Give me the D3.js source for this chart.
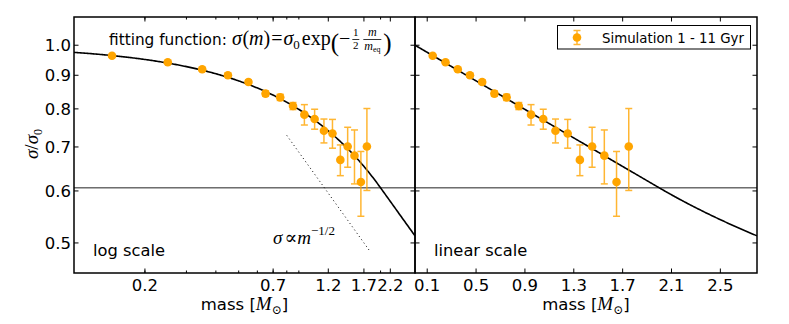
<!DOCTYPE html>
<html>
<head>
<meta charset="utf-8">
<script src="https://cdn.jsdelivr.net/npm/d3@7"></script>
<style>
  body { margin: 0; background: #fff; }
  svg { display: block; }
  text { font-family: 'DejaVu Sans', sans-serif; fill: #000; }
  .math { font-family: 'Liberation Serif', 'DejaVu Serif', serif; }
</style>
</head>
<body>
<svg id="chart" width="789" height="324"></svg>
<script>
// data
const masses = [0.145, 0.25, 0.35, 0.45, 0.55, 0.65, 0.75, 0.85, 0.95, 1.05, 1.15, 1.25, 1.35, 1.45, 1.55, 1.65, 1.75]
const sigmaRatio = [0.964, 0.942, 0.919, 0.900, 0.879, 0.844, 0.833, 0.808, 0.784, 0.772, 0.741, 0.734, 0.669, 0.701, 0.679, 0.619, 0.701]
const sigmaErr = [0.004, 0.004, 0.005, 0.006, 0.007, 0.008, 0.009, 0.010, 0.028, 0.027, 0.031, 0.037, 0.036, 0.049, 0.064, 0.070, 0.100]

// fit parameters
const mEq = 2.0
const sigma0 = 1.0

// reference power law  sigma ~ m^-1/2
const powerLawRange = [0.8, 1.8]
const powerLawAmp = 0.652

const logTicks = [0.2, 0.7, 1.2, 1.7, 2.2]
const logMinorTicks = [0.2, 0.3, 0.4, 0.5, 0.6, 0.7, 0.8, 0.9, 2.0]
const linTicks = [0.1, 0.5, 0.9, 1.3, 1.7, 2.1, 2.5]
const yTicks = [0.5, 0.6, 0.7, 0.8, 0.9, 1.0]

const fit = m => m <= mEq
  ? sigma0 * Math.exp(-0.5 * m / mEq)
  : sigma0 * Math.exp(-0.5) * Math.sqrt(mEq / m)

const svg = d3.select('#chart')
const yTop = 17, yBottom = 273

const y = d3.scaleLog().domain([0.45, 1.104]).range([yBottom, yTop])

const panels = [
  { id: 'log', x: d3.scaleLog().domain([0.1, 2.8]).range([74, 415]), ticks: logTicks, minor: logMinorTicks, label: 'log scale', yLabels: true },
  { id: 'lin', x: d3.scaleLinear().domain([0, 2.8]).range([415, 757]), ticks: linTicks, minor: [], label: 'linear scale', yLabels: false }
]

const defs = svg.append('defs')

panels.forEach(p => {
  const [x0, x1] = p.x.range()
  defs.append('clipPath').attr('id', 'clip-' + p.id)
    .append('rect').attr('x', x0).attr('y', yTop).attr('width', x1 - x0).attr('height', yBottom - yTop)

  const g = svg.append('g')
  const plot = g.append('g').attr('clip-path', `url(#clip-${p.id})`)

  // sigma_eq line
  plot.append('line')
    .attr('x1', x0).attr('x2', x1)
    .attr('y1', y(Math.exp(-0.5))).attr('y2', y(Math.exp(-0.5)))
    .style('stroke', '#222').style('stroke-width', 1)

  // fitting curve
  const [d0, d1] = p.x.domain()
  const curvePts = d3.range(0, 301).map(i => {
    const m = p.id === 'log' ? d0 * Math.pow(d1 / d0, i / 300) : d0 + (d1 - d0) * i / 300
    return [p.x(m), y(fit(m))]
  })
  plot.append('path')
    .attr('d', d3.line()(curvePts))
    .style('fill', 'none').style('stroke', '#000').style('stroke-width', 1.6)

  if (p.id === 'log') {
    plot.append('line')
      .attr('x1', p.x(powerLawRange[0])).attr('y1', y(powerLawAmp / Math.sqrt(powerLawRange[0])))
      .attr('x2', p.x(powerLawRange[1])).attr('y2', y(powerLawAmp / Math.sqrt(powerLawRange[1])))
      .style('stroke', '#000').style('stroke-width', 1)
      .style('stroke-dasharray', '1,3')
  }

  // error bars
  const pts = masses.map((m, i) => ({ m, s: sigmaRatio[i], e: sigmaErr[i] }))
  const eb = plot.append('g').style('stroke', '#ffa500').style('stroke-width', 1.5).style('opacity', 0.8)
  eb.selectAll('.bar').data(pts).enter().append('line')
    .attr('x1', d => p.x(d.m)).attr('x2', d => p.x(d.m))
    .attr('y1', d => y(d.s - d.e)).attr('y2', d => y(d.s + d.e))
  eb.selectAll('.capt').data(pts).enter().append('line')
    .attr('x1', d => p.x(d.m) - 3.5).attr('x2', d => p.x(d.m) + 3.5)
    .attr('y1', d => y(d.s + d.e)).attr('y2', d => y(d.s + d.e))
  eb.selectAll('.capb').data(pts).enter().append('line')
    .attr('x1', d => p.x(d.m) - 3.5).attr('x2', d => p.x(d.m) + 3.5)
    .attr('y1', d => y(d.s - d.e)).attr('y2', d => y(d.s - d.e))

  plot.selectAll('.dot').data(pts).enter().append('circle')
    .attr('cx', d => p.x(d.m)).attr('cy', d => y(d.s)).attr('r', 4.3)
    .style('fill', '#ffa500')

  // ticks (inward, all four sides)
  const tk = g.append('g').style('stroke', '#000').style('stroke-width', 1)
  const xt = (vals, len) => {
    vals.forEach(v => {
      const xx = p.x(v)
      tk.append('line').attr('x1', xx).attr('x2', xx).attr('y1', yBottom).attr('y2', yBottom - len)
      tk.append('line').attr('x1', xx).attr('x2', xx).attr('y1', yTop).attr('y2', yTop + len)
    })
  }
  xt(p.minor, 2.5)
  xt(p.ticks, 4.5)
  yTicks.forEach(v => {
    tk.append('line').attr('x1', x0).attr('x2', x0 + 4.5).attr('y1', y(v)).attr('y2', y(v))
    tk.append('line').attr('x1', x1).attr('x2', x1 - 4.5).attr('y1', y(v)).attr('y2', y(v))
  })

  // frame
  g.append('rect').attr('x', x0).attr('y', yTop).attr('width', x1 - x0).attr('height', yBottom - yTop)
    .style('fill', 'none').style('stroke', '#000').style('stroke-width', 1.5)

  // tick labels
  g.selectAll('.xl').data(p.ticks).enter().append('text')
    .attr('x', d => p.x(d)).attr('y', 291)
    .attr('text-anchor', 'middle').style('font-size', '16.5px')
    .text(d => d3.format('.1f')(d))

  if (p.yLabels) {
    g.selectAll('.yl').data(yTicks).enter().append('text')
      .attr('x', x0 - 3).attr('y', d => y(d) + 6)
      .attr('text-anchor', 'end').style('font-size', '16.5px')
      .text(d => d3.format('.1f')(d))
  }

  // x axis label
  const xl = g.append('text').attr('x', (x0 + x1) / 2).attr('y', 310)
    .attr('text-anchor', 'middle').style('font-size', '16.5px')
  xl.append('tspan').text('mass [')
  xl.append('tspan').attr('class', 'math').style('font-style', 'italic').style('font-size', '19px').text('M')
  xl.append('tspan').attr('class', 'math').style('font-size', '12px').attr('dy', 4).text('⊙')
  xl.append('tspan').attr('dy', -4).text(']')

  g.append('text').attr('x', x0 + 19).attr('y', 256).style('font-size', '16.3px').text(p.label)
})

// y axis label
const yl = svg.append('text').attr('class', 'math')
  .attr('transform', 'translate(38,144) rotate(-90)')
  .attr('text-anchor', 'middle').style('font-size', '19px')
yl.append('tspan').style('font-style', 'italic').text('σ')
yl.append('tspan').text('/')
yl.append('tspan').style('font-style', 'italic').text('σ')
yl.append('tspan').style('font-size', '12px').attr('dy', 4).text('0')

// annotation: fitting function
const ann = svg.append('g')
let cx = 109
const put = (txt, opt = {}) => {
  const t = ann.append('text').attr('x', cx).attr('y', opt.y || 45)
    .attr('class', opt.math ? 'math' : null)
    .style('font-size', (opt.size || 16) + 'px')
    .style('font-style', opt.italic ? 'italic' : 'normal')
    .text(txt)
  const w = t.node().getComputedTextLength()
  cx += w + (opt.gap || 0)
  return t
}
put('fitting function:', { size: 15.3 })
cx = Math.max(cx + 4, 232)
put('σ', { math: true, italic: true, size: 20, gap: 0.5 })
put('(', { math: true, size: 20 })
put('m', { math: true, italic: true, size: 20 })
put(')', { math: true, size: 20, gap: 1 })
put('=', { math: true, size: 20, gap: 1 })
put('σ', { math: true, italic: true, size: 20 })
put('0', { math: true, size: 13, y: 49, gap: 2 })
put('exp', { math: true, size: 20 })
put('(', { math: true, size: 25, y: 51 })
put('−', { math: true, size: 20, gap: 2 })
// fraction 1/2
{
  const c = cx + 3.5
  ann.append('text').attr('class', 'math').attr('x', c).attr('y', 36).attr('text-anchor', 'middle').style('font-size', '11px').text('1')
  ann.append('text').attr('class', 'math').attr('x', c).attr('y', 49).attr('text-anchor', 'middle').style('font-size', '11px').text('2')
  ann.append('line').attr('x1', c - 3.5).attr('x2', c + 3.5).attr('y1', 39.5).attr('y2', 39.5).style('stroke', '#000').style('stroke-width', 0.8)
  cx += 10
}
// fraction m / m_eq
{
  const c = cx + 10
  ann.append('text').attr('class', 'math').attr('x', c).attr('y', 36).attr('text-anchor', 'middle').style('font-size', '12px').style('font-style', 'italic').text('m')
  const b = ann.append('text').attr('class', 'math').attr('x', c).attr('y', 50).attr('text-anchor', 'middle').style('font-size', '12px')
  b.append('tspan').style('font-style', 'italic').text('m')
  b.append('tspan').style('font-size', '8px').attr('dy', 2).text('eq')
  ann.append('line').attr('x1', c - 9).attr('x2', c + 9).attr('y1', 39.5).attr('y2', 39.5).style('stroke', '#000').style('stroke-width', 0.8)
  cx += 21
}
put(')', { math: true, size: 25, y: 51 })

// annotation: power law
const pl = svg.append('text').attr('class', 'math').attr('x', 273).attr('y', 244).style('font-size', '19px')
pl.append('tspan').style('font-style', 'italic').text('σ')
pl.append('tspan').attr('dx', 2).text('∝')
pl.append('tspan').style('font-style', 'italic').text('m')
pl.append('tspan').style('font-size', '13px').attr('dy', -9).text('−1/2')

// legend
const lg = svg.append('g')
lg.append('rect').attr('x', 557.5).attr('y', 25.5).attr('width', 193).attr('height', 23.5)
  .style('fill', '#fff').style('stroke', '#000').style('stroke-width', 1)
const lx = 577, ly = 37.5
const lgb = lg.append('g').style('stroke', '#ffa500').style('stroke-width', 1.5).style('opacity', 0.8)
lgb.append('line').attr('x1', lx).attr('x2', lx).attr('y1', ly - 7).attr('y2', ly + 7)
lgb.append('line').attr('x1', lx - 3.5).attr('x2', lx + 3.5).attr('y1', ly - 7).attr('y2', ly - 7)
lgb.append('line').attr('x1', lx - 3.5).attr('x2', lx + 3.5).attr('y1', ly + 7).attr('y2', ly + 7)
lg.append('circle').attr('cx', lx).attr('cy', ly).attr('r', 4.3).style('fill', '#ffa500')
const legText = lg.append('text').attr('x', 602).attr('y', 43).style('font-size', '15px').text('Simulation 1 - 11 Gyr')
// shrink to the width seen in the figure
const lw = legText.node().getComputedTextLength()
if (lw > 142) legText.style('font-size', (15 * 142 / lw) + 'px')
</script>
</body>
</html>
